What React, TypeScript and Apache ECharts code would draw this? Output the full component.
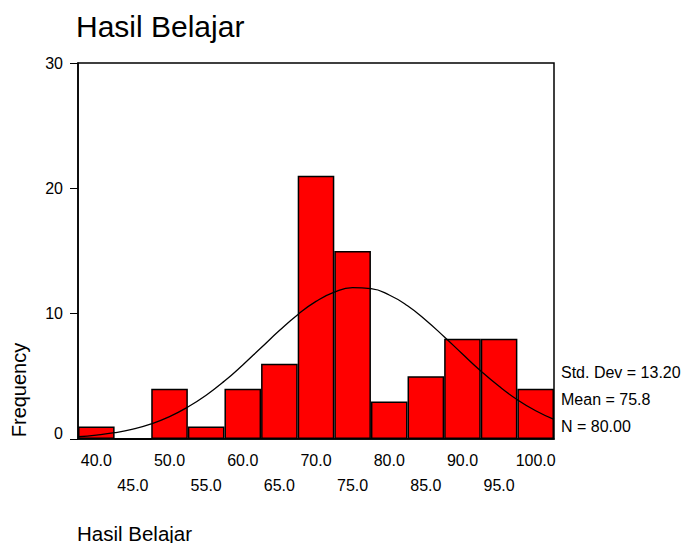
import React, { useEffect, useRef } from "react";
import * as echarts from "echarts";

const categories = ["40.0", "45.0", "50.0", "55.0", "60.0", "65.0", "70.0", "75.0", "80.0", "85.0", "90.0", "95.0", "100.0"];
const frequencies = [1, 0, 4, 1, 4, 6, 21, 15, 3, 5, 8, 8, 4];
const curveX = [37.5, 40, 42.5, 45, 47.5, 50, 52.5, 55, 57.5, 60, 62.5, 65, 67.5, 70, 72.5, 75, 77.5, 80, 82.5, 85, 87.5, 90, 92.5, 95, 97.5, 100, 102.5];
const curveY = [0.18, 0.31, 0.5, 0.79, 1.21, 1.79, 2.55, 3.49, 4.62, 5.91, 7.28, 8.65, 9.92, 10.98, 11.72, 12.07, 11.99, 11.49, 10.63, 9.48, 8.16, 6.78, 5.43, 4.2, 3.13, 2.25, 1.56];
const yTicks = [0, 10, 20, 30];
const statsLines = ["Std. Dev = 13.20", "Mean = 75.8", "N = 80.00"];
const titleText = "Hasil Belajar";
const yAxisName = "Frequency";
const xAxisName = "Hasil Belajar";

const FONT = "'Liberation Sans', Arial, sans-serif";

export default function App() {
  const ref = useRef<HTMLDivElement>(null);
  useEffect(() => {
    if (!ref.current) return;
    const chart = echarts.init(ref.current, null, { renderer: "svg" });
    const grid = { left: 78, top: 63, right: 131, bottom: 104 };
    chart.setOption({
      animation: false,
      backgroundColor: "#fff",
      textStyle: { fontFamily: FONT },
      grid: { ...grid, show: true, borderColor: "#000", borderWidth: 1.5, backgroundColor: "transparent" },
      xAxis: [
        {
          type: "category",
          data: categories,
          boundaryGap: true,
          axisLine: { lineStyle: { color: "#000", width: 1.5 } },
          axisTick: { alignWithLabel: true, length: 4, lineStyle: { color: "#000", width: 1 } },
          axisLabel: {
            interval: 0,
            color: "#000",
            fontSize: 16,
            fontFamily: FONT,
            margin: 9,
            lineHeight: 25,
            formatter: (v: string, i: number) => (i % 2 === 1 ? "\n" + v : v),
          },
          splitLine: { show: false },
        },
        {
          type: "value",
          min: 37.5,
          max: 102.5,
          show: false,
        },
      ],
      yAxis: {
        type: "value",
        min: yTicks[0],
        max: yTicks[yTicks.length - 1],
        interval: 10,
        axisLine: { show: true, lineStyle: { color: "#000", width: 1.5 } },
        axisTick: { show: true, length: 8, lineStyle: { color: "#000", width: 1 } },
        axisLabel: {
          color: "#000",
          fontSize: 16,
          fontFamily: FONT,
          margin: 15,
          formatter: (v: number) => (v === 0 ? "{z|0}" : String(v)),
          rich: { z: { fontSize: 16, fontFamily: FONT, color: "#000", padding: [0, 0, 12, 0] } },
        },
        splitLine: { show: false },
      },
      series: [
        {
          type: "bar",
          xAxisIndex: 0,
          data: frequencies,
          barWidth: "100%",
          barGap: "0%",
          itemStyle: { color: "#FF0000", borderColor: "#000", borderWidth: 1.5 },
        },
        {
          type: "line",
          xAxisIndex: 1,
          data: curveX.map((x, i) => [x, curveY[i]]),
          smooth: true,
          showSymbol: false,
          lineStyle: { color: "#000", width: 1.3 },
          z: 5,
        },
      ],
      graphic: [
        {
          type: "text",
          x: 76,
          y: 26,
          style: { text: titleText, fontSize: 30, fontFamily: FONT, fill: "#000", verticalAlign: "middle" },
        },
        {
          type: "text",
          x: 18.5,
          y: 390,
          rotation: Math.PI / 2,
          style: {
            text: yAxisName,
            fontSize: 20,
            fontFamily: FONT,
            fill: "#000",
            align: "center",
            verticalAlign: "middle",
          },
        },
        ...statsLines.map((t, i) => ({
          type: "text",
          x: 561,
          y: 372 + i * 27,
          style: { text: t, fontSize: 16, fontFamily: FONT, fill: "#000", verticalAlign: "middle" },
        })),
        {
          type: "text",
          x: 77,
          y: 533,
          style: { text: xAxisName, fontSize: 20.5, fontFamily: FONT, fill: "#000", verticalAlign: "middle" },
        },
      ],
    });
    return () => chart.dispose();
  }, []);
  return <div ref={ref} style={{ width: 685, height: 543, position: "absolute", left: 0, top: 0 }} />;
}
